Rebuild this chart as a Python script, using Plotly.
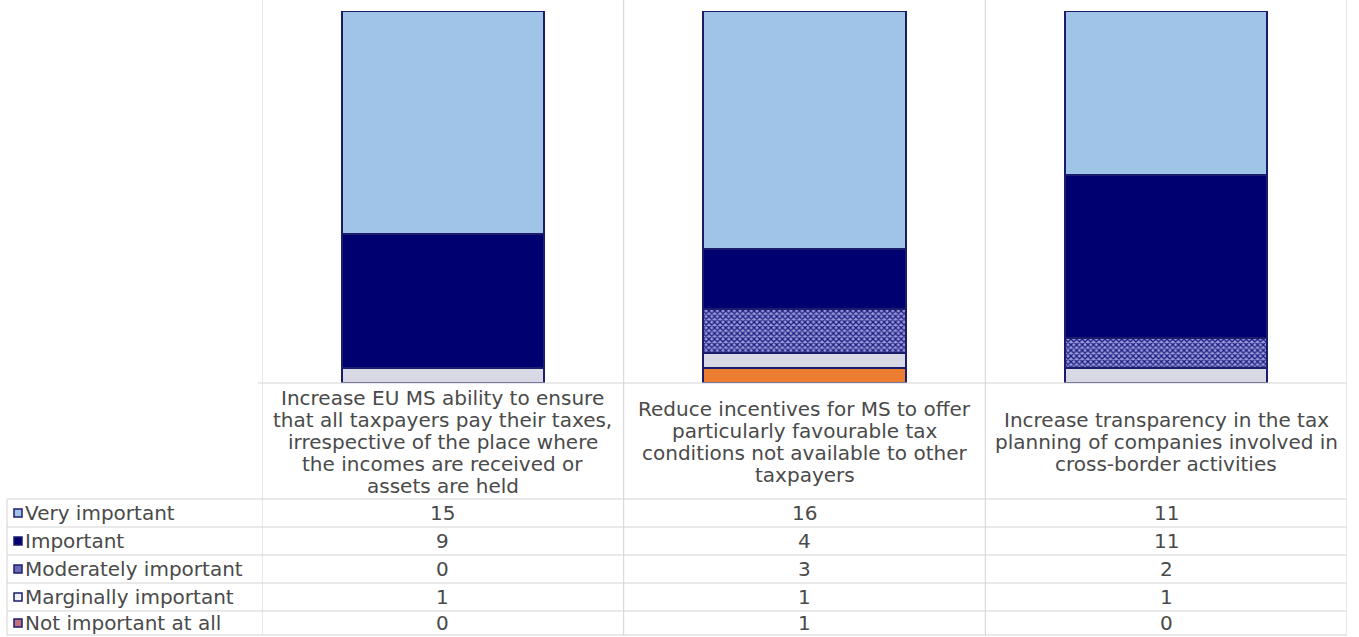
import plotly.graph_objects as go

categories = [
    "Increase EU MS ability to ensure<br>that all taxpayers pay their taxes,<br>irrespective of the place where<br>the incomes are received or<br>assets are held",
    "Reduce incentives for MS to offer<br>particularly favourable tax<br>conditions not available to other<br>taxpayers",
    "Increase transparency in the tax<br>planning of companies involved in<br>cross-border activities",
]
series_names = ["Very important", "Important", "Moderately important",
                "Marginally important", "Not important at all"]
very_important = [15, 16, 11]
important = [9, 4, 11]
moderately_important = [0, 3, 2]
marginally_important = [1, 1, 1]
not_important = [0, 1, 0]
series_values = [very_important, important, moderately_important,
                 marginally_important, not_important]

W, H = 1359, 637
L, R, T, B = 262, 1347, 11, 383


def fx(px):
    return (px - L) / (R - L)


def fy(py):
    return (B - py) / (B - T)


FONT = "DejaVu Sans"
FS = 20
TXT = "#4a4a4a"
GRID = "#d4d4d4"
OUTLINE = "#1c1c6c"

styles = {
    "Very important": dict(color="#9fc4e8"),
    "Important": dict(color="#000070"),
    "Moderately important": dict(color="#8080c8",
                                 pattern=dict(shape="x", size=4, solidity=0.55,
                                              fgcolor="#1c1c80", bgcolor="#9c9cdc",
                                              fillmode="replace")),
    "Marginally important": dict(color="#d9d9e6"),
    "Not important at all": dict(color="#ed7d31"),
}
key_fill = {
    "Very important": "#9fc4e8",
    "Important": "#000070",
    "Moderately important": "#6a6ab8",
    "Marginally important": "#eeeefa",
    "Not important at all": "#c07080",
}

fig = go.Figure()
# stack from bottom to top
for name, vals in reversed(list(zip(series_names, series_values))):
    st = styles[name]
    marker = dict(color=st["color"], line=dict(color=OUTLINE, width=2))
    if "pattern" in st:
        marker["pattern"] = st["pattern"]
    fig.add_trace(go.Bar(x=categories, y=vals, name=name, marker=marker,
                         hoverinfo="skip"))

shapes = []
annotations = []

# vertical column separators
for xv in [-0.5, 0.5, 1.5, 2.5]:
    shapes.append(dict(type="line", xref="x", yref="paper", x0=xv, x1=xv,
                       y0=fy(0), y1=fy(635), line=dict(color=GRID, width=1)))
# left border of label column
shapes.append(dict(type="line", xref="paper", yref="paper", x0=fx(7), x1=fx(7),
                   y0=fy(499), y1=fy(635), line=dict(color=GRID, width=1)))
# plot bottom line
shapes.append(dict(type="line", xref="paper", yref="paper", x0=fx(258), x1=1,
                   y0=0, y1=0, line=dict(color=GRID, width=1)))
row_lines = [499, 527, 555, 583, 611, 635]
for py in row_lines:
    shapes.append(dict(type="line", xref="paper", yref="paper", x0=fx(7), x1=1,
                       y0=fy(py), y1=fy(py), line=dict(color=GRID, width=1)))

# category labels (one annotation per line to control line spacing)
LINE_H = 22
for cat in categories:
    lines = cat.split("<br>")
    n = len(lines)
    for k, ln in enumerate(lines):
        cy = 442 + (k - (n - 1) / 2) * LINE_H
        annotations.append(dict(x=cat, y=fy(cy), xref="x", yref="paper", text=ln,
                                showarrow=False, xanchor="center", yanchor="middle",
                                font=dict(family=FONT, size=FS, color=TXT)))

# data table rows
for i, (name, vals) in enumerate(zip(series_names, series_values)):
    top, bot = row_lines[i], row_lines[i + 1]
    cy = (top + bot) / 2
    annotations.append(dict(x=fx(23), y=fy(cy), xref="paper", yref="paper",
                            text=name, showarrow=False, xanchor="left",
                            yanchor="middle",
                            font=dict(family=FONT, size=FS, color=TXT)))
    shapes.append(dict(type="rect", xref="paper", yref="paper",
                       x0=fx(14), x1=fx(22), y0=fy(cy + 4), y1=fy(cy - 4),
                       fillcolor=key_fill[name], line=dict(color=OUTLINE, width=1.5)))
    for cat, v in zip(categories, vals):
        annotations.append(dict(x=cat, y=fy(cy), xref="x", yref="paper",
                                text=str(v), showarrow=False, xanchor="center",
                                yanchor="middle",
                                font=dict(family=FONT, size=FS, color=TXT)))

fig.update_layout(
    width=W, height=H, autosize=False,
    margin=dict(l=L, r=W - R, t=T, b=H - B, pad=0),
    paper_bgcolor="white", plot_bgcolor="white",
    barmode="stack", bargap=0.44, showlegend=False,
    xaxis=dict(showticklabels=False, showgrid=False, zeroline=False,
               showline=False, ticks="", range=[-0.5, 2.5], fixedrange=True),
    yaxis=dict(range=[0, 25], visible=False, fixedrange=True),
    shapes=shapes, annotations=annotations,
)

fig.write_html("out.html", config={"displayModeBar": False},
               post_script="document.body.style.margin='0';")
